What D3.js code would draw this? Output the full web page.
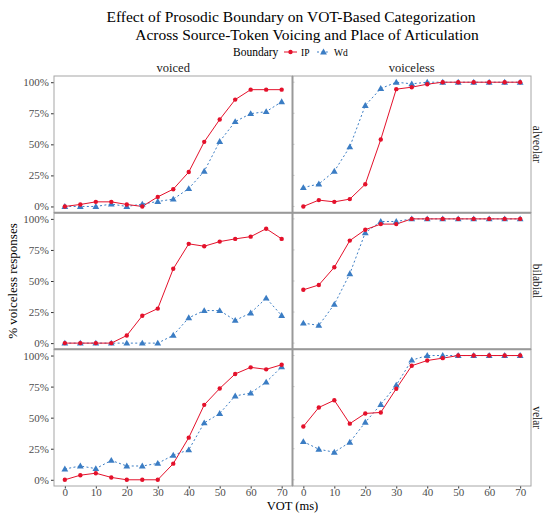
<!DOCTYPE html>
<html>
<head>
<meta charset="utf-8">
<script src="https://cdn.jsdelivr.net/npm/d3@7"></script>
<style>
  body { margin: 0; background: #fff; }
  svg { display: block; }
  svg text { font-family: "Liberation Serif", "DejaVu Serif", serif; }
</style>
</head>
<body>
<svg id="chart" width="543" height="513"></svg>
<script>
// ---------- data ----------
const vot = [0, 5, 10, 15, 20, 25, 30, 35, 40, 45, 50, 55, 60, 65, 70];
const voicingLevels = ["voiced", "voiceless"];
const placeLevels = ["alveolar", "bilabial", "velar"];
const boundaryLevels = ["IP", "Wd"];
const yTickValues = [0, 0.25, 0.5, 0.75, 1];
const yTickLabels = ["0%", "25%", "50%", "75%", "100%"];
const xTickValues = [0, 10, 20, 30, 40, 50, 60, 70];

// alveolar
const ipVoicedAlveolar    = [0, 0.016, 0.037, 0.037, 0.016, 0, 0.077, 0.139, 0.277, 0.52, 0.70, 0.86, 0.94, 0.94, 0.94];
const wdVoicedAlveolar    = [0, 0, 0, 0.019, 0, 0.019, 0.04, 0.059, 0.144, 0.283, 0.523, 0.683, 0.747, 0.763, 0.843];
const ipVoicelessAlveolar = [0, 0.051, 0.037, 0.059, 0.179, 0.539, 0.944, 0.96, 0.984, 1, 1, 1, 1, 1, 1];
const wdVoicelessAlveolar = [0.152, 0.181, 0.283, 0.48, 0.813, 0.949, 1, 0.987, 1, 1, 1, 1, 1, 1, 1];
// bilabial
const ipVoicedBilabial    = [0, 0, 0, 0, 0.061, 0.22, 0.278, 0.598, 0.799, 0.78, 0.817, 0.839, 0.857, 0.921, 0.839];
const wdVoicedBilabial    = [0, 0, 0, 0, 0, 0, 0, 0.063, 0.204, 0.262, 0.262, 0.183, 0.243, 0.362, 0.222];
const ipVoicelessBilabial = [0.429, 0.468, 0.611, 0.825, 0.913, 0.958, 0.958, 1, 1, 1, 1, 1, 1, 1, 1];
const wdVoicelessBilabial = [0.161, 0.143, 0.312, 0.558, 0.889, 0.979, 0.979, 1, 1, 1, 1, 1, 1, 1, 1];
// velar
const ipVoicedVelar       = [0, 0.037, 0.053, 0.019, 0, 0, 0, 0.13, 0.339, 0.603, 0.735, 0.852, 0.905, 0.889, 0.926];
const wdVoicedVelar       = [0.087, 0.111, 0.09, 0.156, 0.111, 0.111, 0.132, 0.198, 0.241, 0.458, 0.534, 0.675, 0.698, 0.786, 0.91];
const ipVoicelessVelar    = [0.429, 0.582, 0.64, 0.452, 0.534, 0.542, 0.733, 0.918, 0.96, 0.979, 1, 1, 1, 1, 1];
const wdVoicelessVelar    = [0.307, 0.246, 0.222, 0.302, 0.463, 0.606, 0.762, 0.963, 1, 1, 1, 1, 1, 1, 1];

const seriesTable = {
  alveolar: { voiced: { IP: ipVoicedAlveolar, Wd: wdVoicedAlveolar }, voiceless: { IP: ipVoicelessAlveolar, Wd: wdVoicelessAlveolar } },
  bilabial: { voiced: { IP: ipVoicedBilabial, Wd: wdVoicedBilabial }, voiceless: { IP: ipVoicelessBilabial, Wd: wdVoicelessBilabial } },
  velar:    { voiced: { IP: ipVoicedVelar,    Wd: wdVoicedVelar },    voiceless: { IP: ipVoicelessVelar,    Wd: wdVoicelessVelar } }
};

// ---------- styles ----------
const serif = "Liberation Serif";
const colors = { IP: "#e4112b", Wd: "#3b7dc4" };
const dash = { IP: null, Wd: "2,2.4" };
const tickColor = "#4d4d4d";
const borderColor = "#a6a6a6";

// ---------- layout ----------
const svg = d3.select("#chart");
const pLeft = 54, pRight = 531, pTop = 76, pBottom = 486;
const panelW = (pRight - pLeft) / 2;
const panelH = (pBottom - pTop) / 3;

const x = d3.scaleLinear().domain([-3.5, 73.5]).range([0, panelW]);
const y = d3.scaleLinear().domain([-0.05, 1.05]).range([panelH, 0]);

// titles
svg.append("text").attr("x", 291).attr("y", 22).attr("text-anchor", "middle")
  .attr("font-family", serif).attr("font-size", 15.5).attr("fill", "#000")
  .text("Effect of Prosodic Boundary on VOT-Based Categorization");
svg.append("text").attr("x", 307).attr("y", 40).attr("text-anchor", "middle")
  .attr("font-family", serif).attr("font-size", 15.5).attr("fill", "#000")
  .text("Across Source-Token Voicing and Place of Articulation");

// legend
const lg = svg.append("g").attr("transform", "translate(0,52)");
lg.append("text").attr("x", 233).attr("y", 4).attr("font-family", serif).attr("font-size", 11.5).text("Boundary");
const keyX = { IP: 284, Wd: 317 };
boundaryLevels.forEach(b => {
  const kx = keyX[b];
  lg.append("line").attr("x1", kx).attr("x2", kx + 13).attr("y1", 0).attr("y2", 0)
    .attr("stroke", colors[b]).attr("stroke-width", 1).attr("stroke-dasharray", dash[b]);
  if (b === "IP") {
    lg.append("circle").attr("cx", kx + 6.5).attr("cy", 0).attr("r", 2.2).attr("fill", colors[b]);
  } else {
    lg.append("path").attr("d", d3.symbol(d3.symbolTriangle, 20)()).attr("transform", `translate(${kx + 6.5},0.5)`).attr("fill", colors[b]);
  }
  lg.append("text").attr("x", kx + 17).attr("y", 3.5).attr("font-family", serif).attr("font-size", 9.5).attr("fill", "#000").text(b);
});

// column strips
voicingLevels.forEach((v, ci) => {
  svg.append("text").attr("x", pLeft + ci * panelW + panelW / 2).attr("y", 72)
    .attr("text-anchor", "middle").attr("font-family", serif).attr("font-size", 12.5).attr("fill", "#1a1a1a").text(v);
});
// row strips
placeLevels.forEach((p, ri) => {
  const cy = pTop + ri * panelH + panelH / 2;
  svg.append("text").attr("transform", `translate(532.5,${cy}) rotate(90)`)
    .attr("text-anchor", "middle").attr("font-family", serif).attr("font-size", 11.5).attr("fill", "#1a1a1a").text(p);
});

// panels
placeLevels.forEach((p, ri) => {
  voicingLevels.forEach((v, ci) => {
    const g = svg.append("g").attr("transform", `translate(${pLeft + ci * panelW},${pTop + ri * panelH})`);
    if (ci === 0) {
      const ya = g.append("g").call(d3.axisLeft(y).tickValues(yTickValues)
        .tickFormat((d, i) => yTickLabels[i]).tickSize(3).tickPadding(2));
      ya.attr("font-family", serif);
      ya.select(".domain").remove();
      ya.selectAll("line").attr("stroke", "#333");
      ya.selectAll("text").attr("font-family", serif).attr("font-size", 11).attr("fill", tickColor);
    } else {
      yTickValues.forEach(t => {
        g.append("line").attr("x1", 0).attr("x2", 2).attr("y1", y(t)).attr("y2", y(t))
          .attr("stroke", "#bbb").attr("stroke-width", 0.8);
      });
    }
    if (ri === 2) {
      const xa = g.append("g").attr("transform", `translate(0,${panelH})`)
        .call(d3.axisBottom(x).tickValues(xTickValues).tickSize(2.5).tickPadding(0));
      xa.attr("font-family", serif);
      xa.select(".domain").remove();
      xa.selectAll("line").attr("stroke", "#333");
      xa.selectAll("text").attr("font-family", serif).attr("font-size", 11).attr("fill", tickColor);
    }
    const line = d3.line().x((d, i) => x(vot[i])).y(d => y(d));
    ["Wd", "IP"].forEach(b => {
      const vals = seriesTable[p][v][b];
      g.append("path").datum(vals).attr("d", line).attr("fill", "none")
        .attr("stroke", colors[b]).attr("stroke-width", 1).attr("stroke-dasharray", dash[b]);
    });
    ["Wd", "IP"].forEach(b => {
      const vals = seriesTable[p][v][b];
      if (b === "IP") {
        g.selectAll(null).data(vals).enter().append("circle")
          .attr("cx", (d, i) => x(vot[i])).attr("cy", d => y(d)).attr("r", 2.2).attr("fill", colors[b]);
      } else {
        g.selectAll(null).data(vals).enter().append("path")
          .attr("d", d3.symbol(d3.symbolTriangle, 20)())
          .attr("transform", (d, i) => `translate(${x(vot[i])},${y(d) + 0.5})`).attr("fill", colors[b]);
      }
    });
    g.append("rect").attr("x", 0).attr("y", 0).attr("width", panelW).attr("height", panelH)
      .attr("fill", "none").attr("stroke", borderColor).attr("stroke-width", 1);
  });
});

// thicker separators
svg.append("line").attr("x1", pLeft + panelW).attr("x2", pLeft + panelW).attr("y1", pTop).attr("y2", pBottom)
  .attr("stroke", "#999").attr("stroke-width", 2);
[1, 2].forEach(k => {
  svg.append("line").attr("x1", pLeft).attr("x2", pRight).attr("y1", pTop + k * panelH).attr("y2", pTop + k * panelH)
    .attr("stroke", "#999").attr("stroke-width", 2);
});

// axis titles
svg.append("text").attr("transform", `translate(17,${(pTop + pBottom) / 2}) rotate(-90)`)
  .attr("text-anchor", "middle").attr("font-family", serif).attr("font-size", 13).attr("fill", "#000").text("% voiceless responses");
svg.append("text").attr("x", (pLeft + pRight) / 2).attr("y", 510)
  .attr("text-anchor", "middle").attr("font-family", serif).attr("font-size", 12.5).attr("fill", "#000").text("VOT (ms)");
</script>
</body>
</html>
